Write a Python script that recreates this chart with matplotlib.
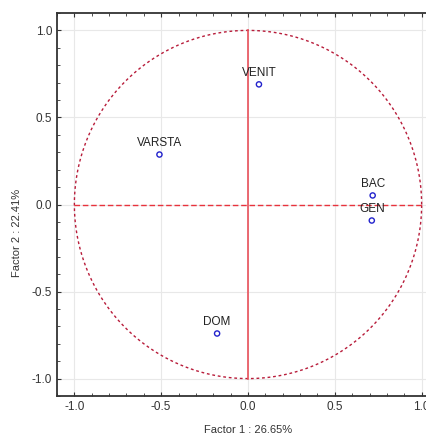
import numpy as np
import matplotlib.pyplot as plt
from matplotlib.ticker import MultipleLocator

plt.rcParams["font.family"] = ["Liberation Sans", "DejaVu Sans"]
plt.rcParams["axes.unicode_minus"] = False

# factor loadings
names = ["VENIT", "VARSTA", "BAC", "GEN", "DOM"]
factor1 = [0.063, -0.51, 0.718, 0.713, -0.178]
factor2 = [0.69, 0.287, 0.052, -0.092, -0.741]

fig = plt.figure(figsize=(4.26, 4.37), dpi=100)
ax = fig.add_axes([57 / 426, 41 / 437, 382 / 426, 383 / 437])

ax.set_xlim(-1.1, 1.1)
ax.set_ylim(-1.1, 1.1)

ax.grid(True, color="#e8e8e8", linewidth=0.8)
ax.set_axisbelow(True)

# unit circle and axes cross
t = np.linspace(0, 2 * np.pi, 400)
ax.plot(np.cos(t), np.sin(t), color="#b81c3a", linestyle=(0, (2, 2)), linewidth=1.0)
ax.plot([-1, 1], [0, 0], color="#e8323c", linestyle=(0, (4, 2)), linewidth=1.0)
ax.plot([0, 0], [-1, 1], color="#e8505a", linewidth=1.2)

ax.scatter(factor1, factor2, s=14, facecolors="none", edgecolors="#2222cc", linewidths=1.0, zorder=3)
for name, fx, fy in zip(names, factor1, factor2):
    ax.annotate(name, (fx, fy), xytext=(0, 4), textcoords="offset points",
                ha="center", va="bottom", fontsize=8.5, color="#222222")

ax.xaxis.set_major_locator(MultipleLocator(0.5))
ax.yaxis.set_major_locator(MultipleLocator(0.5))
ax.xaxis.set_minor_locator(MultipleLocator(0.1))
ax.yaxis.set_minor_locator(MultipleLocator(0.1))
ax.tick_params(which="both", direction="in", top=True, right=False, labelsize=8.5, colors="#333333")
ax.tick_params(which="major", length=3)
ax.tick_params(which="minor", length=2)

for side in ["left", "bottom", "top"]:
    ax.spines[side].set_linewidth(1.3)
    ax.spines[side].set_color("#333333")
ax.spines["right"].set_visible(False)

fig.text(248 / 426, 7 / 437, "Factor 1 : 26.65%", ha="center", va="center", fontsize=8, color="#333333")
fig.text(17 / 426, 204 / 437, "Factor 2 : 22.41%", ha="center", va="center", rotation=90, fontsize=8, color="#333333")

fig.savefig("out.png", dpi=100)
